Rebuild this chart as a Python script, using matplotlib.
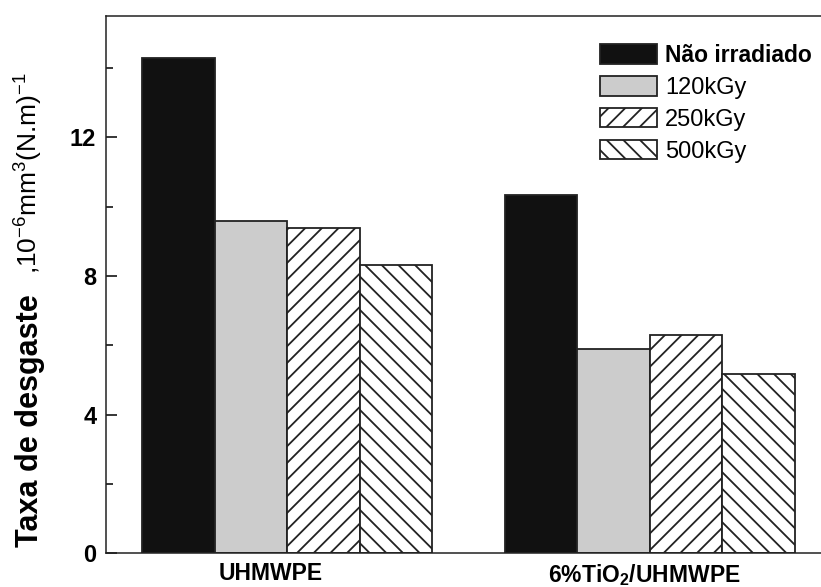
import matplotlib
matplotlib.use("Agg")
import matplotlib.pyplot as plt
from matplotlib.ticker import MultipleLocator

# data
groups = ["UHMWPE", r"6%TiO$_\mathbf{2}$/UHMWPE"]
series = ["Não irradiado", "120kGy", "250kGy", "500kGy"]
nao_irradiado = [14.3, 10.35]
kgy120 = [9.58, 5.88]
kgy250 = [9.38, 6.31]
kgy500 = [8.31, 5.18]

plt.rcParams["font.family"] = ["Liberation Sans", "DejaVu Sans"]
plt.rcParams["mathtext.fontset"] = "custom"
plt.rcParams["mathtext.rm"] = "Liberation Sans"
plt.rcParams["mathtext.bf"] = "Liberation Sans:bold"
plt.rcParams["mathtext.it"] = "Liberation Sans:italic"
plt.rcParams["hatch.linewidth"] = 1.3

W, H = 821, 587
fig = plt.figure(figsize=(W / 100, H / 100), dpi=100)
ax = fig.add_axes([106 / W, 33.7 / H, 725 / W, 537.3 / H])

values = [nao_irradiado, kgy120, kgy250, kgy500]
colors = ["#111111", "#cccccc", "white", "white"]
hatches = [None, None, "//", "\\\\"]

group_gap = len(series) + 1
for s, (vals, c, h, name) in enumerate(zip(values, colors, hatches, series)):
    xs = [g * group_gap + s for g in range(len(groups))]
    ax.bar(xs, vals, width=1.0, color=c, edgecolor="#222222", linewidth=1.3,
           hatch=h, label=name, zorder=2)

ax.set_xlim(-1, 9)
ax.set_ylim(0, 15.5)

ax.yaxis.set_major_locator(MultipleLocator(4))
ax.yaxis.set_minor_locator(MultipleLocator(2))
ax.tick_params(axis="y", which="major", direction="in", length=8, width=1.1,
               labelsize=17, pad=7)
ax.tick_params(axis="y", which="minor", direction="in", length=5, width=1.1)
for lbl in ax.get_yticklabels():
    lbl.set_fontweight("bold")

ax.set_xticks([1.27, 6.42])
ax.set_xticklabels(groups, fontsize=16.5, fontweight="bold")
ax.tick_params(axis="x", length=0, pad=6)

for sp in ax.spines.values():
    sp.set_linewidth(1.1)
    sp.set_color("#222222")

# y label: bold words plus smaller regular units, written as two rotated texts
fig.text(38 / W, (H - 547) / H, "Taxa de desgaste", rotation=90,
         rotation_mode="anchor", ha="left", va="baseline",
         fontsize=22, fontweight="bold")
fig.text(38 / W, (H - 274) / H, r",10$^{-6}$mm$^{3}$(N.m)$^{-1}$", rotation=90,
         rotation_mode="anchor", ha="left", va="baseline", fontsize=19)

leg = ax.legend(loc="upper left", bbox_to_anchor=(600 / W, 1 - 44 / H),
                bbox_transform=fig.transFigure, frameon=False, fontsize=17,
                handlelength=2.4, handleheight=0.9, handletextpad=0.35,
                labelspacing=0.38, borderpad=0, borderaxespad=0)
leg.get_texts()[0].set_fontweight("bold")
leg.get_texts()[0].set_fontsize(16.5)

fig.savefig("out.png", dpi=100)
